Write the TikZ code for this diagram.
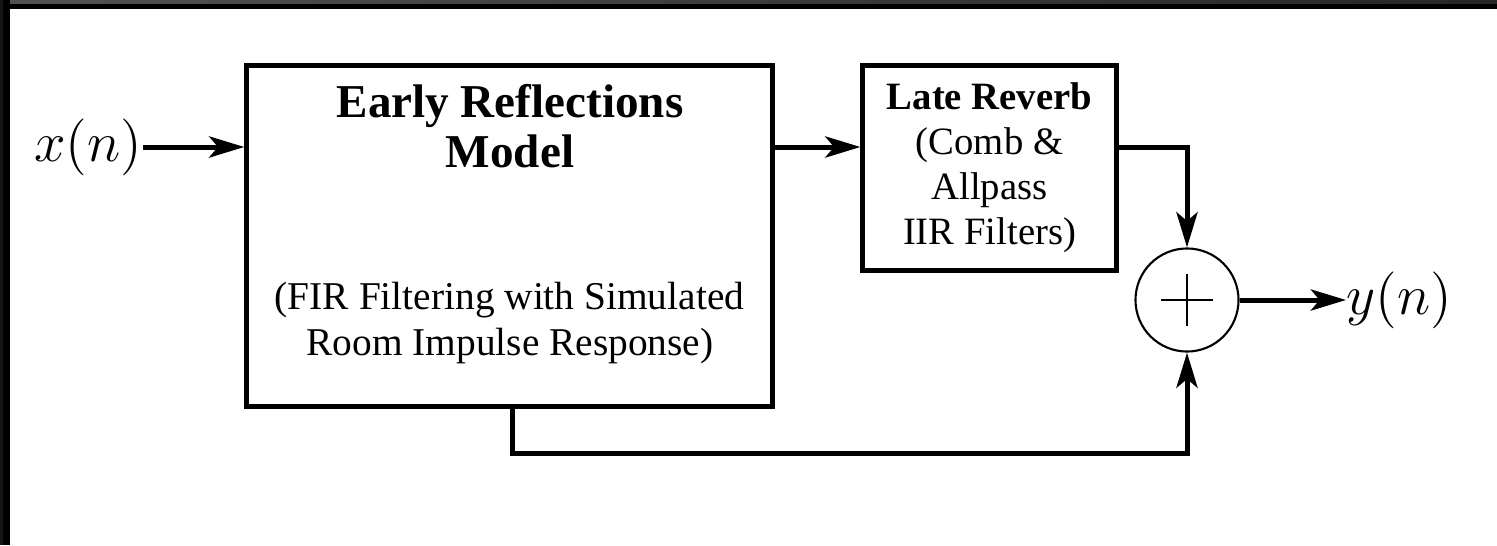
\documentclass[tikz,border=0pt]{standalone}
\usepackage{fontspec}
\usepackage{graphicx}
\setmainfont{Liberation Serif}
\usetikzlibrary{arrows.meta}

\newcommand{\sigtext}[1]{\scalebox{1.12}{$#1$}}

\tikzset{
  block/.style={draw, line width=1.42pt, rectangle, inner sep=0pt},
  txt/.style={align=center, inner sep=0pt, font=\fontsize{11.0}{12.8}\selectfont},
  subline/.style={anchor=base, inner sep=0pt, font=\fontsize{11.2}{13}\selectfont},
  ttlline/.style={anchor=base, inner sep=0pt, font=\fontsize{13.4}{15}\selectfont\bfseries},
  sig/.style={inner sep=0pt, font=\fontsize{14.4}{17}\selectfont},
  wire/.style={line width=1.42pt},
  arr/.style={wire, -{Stealth[length=10pt, width=6pt, inset=2.5pt]}},
  adder/.style={draw, circle, line width=0.6pt, minimum size=1.03cm, inner sep=0pt}
}

\begin{document}
\begin{tikzpicture}[x=0.01cm, y=-0.01cm]
  \useasboundingbox (0,0) rectangle (1497,545);
  % window edge along the top and left
  \fill[white] (0,0) rectangle (1497,545);
  \fill[black] (0,0) rectangle (1497,8.5);
  \shade[left color=black!68, right color=black!85] (0,0) rectangle (1497,3);
  \fill[black] (0,0) rectangle (9.5,545);
  \fill[black!92] (0,0) rectangle (3,545);

  % early reflections block
  \node[block, minimum width=5.25cm, minimum height=3.4cm] (early) at (509.5,236) {};
  \node[ttlline] (ttlA) at (510,117) {Early Reflections};
  \node[ttlline] (ttlB) at (510,167) {Model};
  \node[subline] (subA) at (509.5,309) {(FIR Filtering with Simulated};
  \node[subline] (subB) at (510,355) {Room Impulse Response)};

  % late reverb block
  \node[block, minimum width=2.53cm, minimum height=2.04cm] (late) at (989.5,168) {};
  \node[txt] (latetxt) at (989.5,168) {{\bfseries Late Reverb}\\(Comb \&\\Allpass\\IIR Filters)};

  % summing junction
  \node[adder] (sum) at (1187,300) {};
  \draw[line width=0.6pt] ([xshift=-0.26cm]sum.center) -- ([xshift=0.26cm]sum.center)
                          ([yshift=-0.26cm]sum.center) -- ([yshift=0.26cm]sum.center);

  % signals
  \node[sig, anchor=east] (xin) at (143,147) {\sigtext{x(n)}};
  \node[sig, anchor=west] (yout) at (1346,300) {\sigtext{y(n)}};
  \coordinate (fb) at (512,453);

  % connectors
  \draw[arr] (xin.east) -- (xin.east -| early.west);
  \draw[arr] (xin.east -| early.east) -- (xin.east -| late.west);
  \draw[arr] (xin.east -| late.east) -| (sum.north);
  \draw[arr] (early.south -| fb) -- (fb) -| (sum.south);
  \draw[arr] (sum.east) -- (yout.west);
\end{tikzpicture}
\end{document}
